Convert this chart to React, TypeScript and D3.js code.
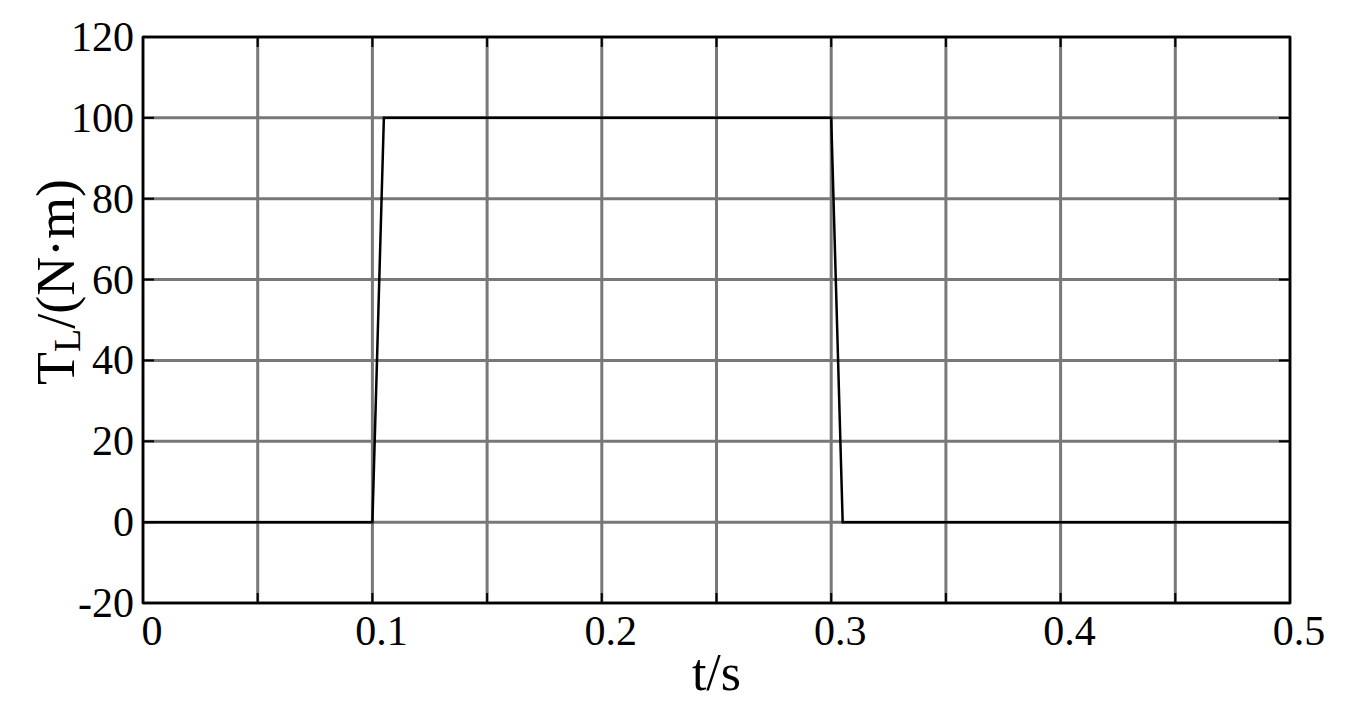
import React, { useEffect, useRef } from 'react';
import * as d3 from 'd3';

// load torque step
const timeS = [0, 0.1, 0.105, 0.3, 0.305, 0.5];
const torqueNm = [0, 0, 100, 100, 0, 0];
const xTicks = [0, 0.1, 0.2, 0.3, 0.4, 0.5];
const xGrid = [0, 0.05, 0.1, 0.15, 0.2, 0.25, 0.3, 0.35, 0.4, 0.45, 0.5];
const yTicks = [-20, 0, 20, 40, 60, 80, 100, 120];

export default function App() {
    const ref = useRef<SVGSVGElement>(null);

    useEffect(() => {
        const svgWidth = 1355, svgHeight = 715;
        const left = 143, right = 1290, top = 37, bottom = 603;
        const font = '"Liberation Serif", "Times New Roman", serif';

        const svg = d3.select(ref.current)
            .attr('width', svgWidth)
            .attr('height', svgHeight);
        svg.selectAll('*').remove();

        const x = d3.scaleLinear().domain([0, 0.5]).range([left, right]);
        const y = d3.scaleLinear().domain([-20, 120]).range([bottom, top]);

        // grid
        const grid = svg.append('g').attr('stroke', '#787878').attr('stroke-width', 3);
        grid.selectAll('line.v').data(xGrid).enter().append('line')
            .attr('class', 'v')
            .attr('x1', d => x(d)).attr('x2', d => x(d))
            .attr('y1', top).attr('y2', bottom);
        grid.selectAll('line.h').data(yTicks).enter().append('line')
            .attr('class', 'h')
            .attr('x1', left).attr('x2', right)
            .attr('y1', d => y(d)).attr('y2', d => y(d));

        // curve
        const line = d3.line<number>()
            .x((d, i) => x(timeS[i]))
            .y(d => y(d));
        svg.append('path')
            .datum(torqueNm)
            .attr('fill', 'none')
            .attr('stroke', '#000')
            .attr('stroke-width', 2.5)
            .attr('d', line);

        // frame
        svg.append('rect')
            .attr('x', left).attr('y', top)
            .attr('width', right - left).attr('height', bottom - top)
            .attr('fill', 'none').attr('stroke', '#000').attr('stroke-width', 2.5);

        // inward ticks on all sides
        const ticks = svg.append('g').attr('stroke', '#000').attr('stroke-width', 2);
        xGrid.forEach(d => {
            ticks.append('line').attr('x1', x(d)).attr('x2', x(d)).attr('y1', bottom).attr('y2', bottom - 10);
            ticks.append('line').attr('x1', x(d)).attr('x2', x(d)).attr('y1', top).attr('y2', top + 10);
        });
        yTicks.forEach(d => {
            ticks.append('line').attr('x1', left).attr('x2', left + 11).attr('y1', y(d)).attr('y2', y(d));
            ticks.append('line').attr('x1', right).attr('x2', right - 11).attr('y1', y(d)).attr('y2', y(d));
        });

        // tick labels
        svg.append('g').selectAll('text').data(xTicks).enter().append('text')
            .attr('x', d => x(d) + 9)
            .attr('y', 645)
            .attr('text-anchor', 'middle')
            .attr('font-family', font)
            .attr('font-size', 42)
            .text(d => d3.format('')(d));

        svg.append('g').selectAll('text').data(yTicks).enter().append('text')
            .attr('x', 134)
            .attr('y', d => y(d) + 14)
            .attr('text-anchor', 'end')
            .attr('font-family', font)
            .attr('font-size', 42)
            .text(d => String(d));

        // axis titles
        svg.append('text')
            .attr('x', (left + right) / 2)
            .attr('y', 690)
            .attr('text-anchor', 'middle')
            .attr('font-family', font)
            .attr('font-size', 52)
            .text('t/s');

        const yTitle = svg.append('text')
            .attr('transform', 'translate(74,' + 282 + ') rotate(-90)')
            .attr('text-anchor', 'middle')
            .attr('font-family', font)
            .attr('font-size', 54);
        yTitle.append('tspan').text('T');
        yTitle.append('tspan').attr('font-size', 38).attr('dy', 6).text('L');
        yTitle.append('tspan').attr('dy', -6).text('/(N·m)');
    }, []);

    return (
        <div id="chart">
            <svg ref={ref} style={{ position: 'absolute', left: 0, top: 0 }}></svg>
        </div>
    );
}
